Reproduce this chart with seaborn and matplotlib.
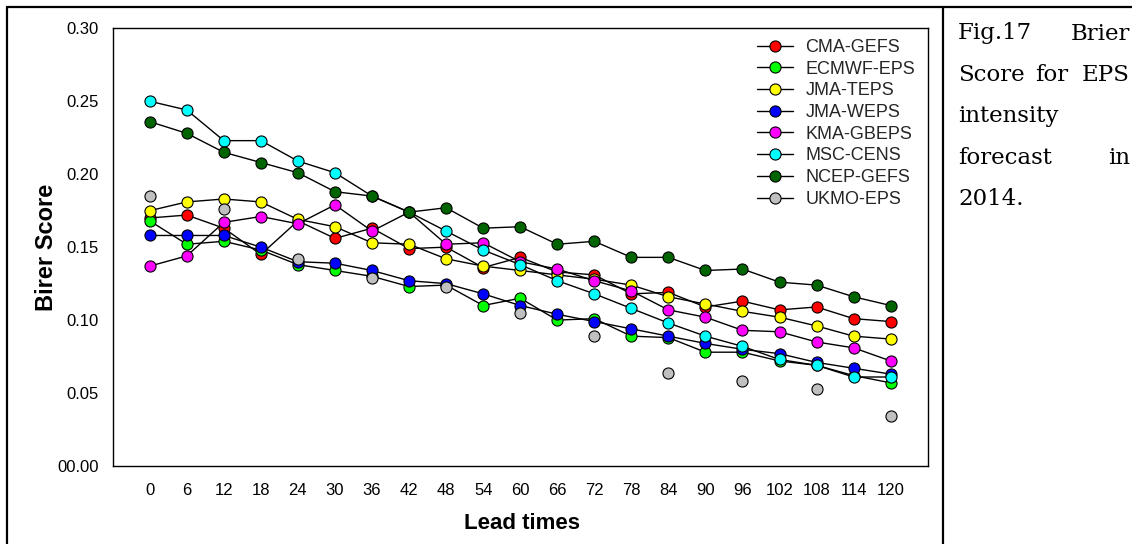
import numpy as np
import pandas as pd
import matplotlib
matplotlib.use("Agg")
import matplotlib.pyplot as plt
import seaborn as sns
from matplotlib.lines import Line2D

# ---------------- data ----------------
lead_times = [0, 6, 12, 18, 24, 30, 36, 42, 48, 54, 60, 66, 72, 78, 84, 90, 96, 102, 108, 114, 120]
cma_gefs   = [0.170, 0.172, 0.163, 0.145, 0.168, 0.156, 0.163, 0.149, 0.150, 0.136, 0.143,
              0.133, 0.131, 0.118, 0.119, 0.109, 0.113, 0.107, 0.109, 0.101, 0.099]
ecmwf_eps  = [0.168, 0.152, 0.154, 0.148, 0.138, 0.134, 0.130, 0.123, 0.124, 0.110, 0.115,
              0.100, 0.101, 0.089, 0.088, 0.078, 0.078, 0.072, 0.069, 0.062, 0.057]
jma_teps   = [0.175, 0.181, 0.183, 0.181, 0.169, 0.164, 0.153, 0.152, 0.142, 0.137, 0.134,
              0.131, 0.128, 0.124, 0.116, 0.111, 0.106, 0.102, 0.096, 0.089, 0.087]
jma_weps   = [0.158, 0.158, 0.158, 0.150, 0.140, 0.139, 0.134, 0.127, 0.125, 0.118, 0.110,
              0.104, 0.099, 0.094, 0.089, 0.084, 0.080, 0.077, 0.071, 0.067, 0.063]
kma_gbeps  = [0.137, 0.144, 0.167, 0.171, 0.166, 0.179, 0.161, 0.174, 0.152, 0.153, 0.140,
              0.135, 0.127, 0.120, 0.107, 0.102, 0.093, 0.092, 0.085, 0.081, 0.072]
msc_cens   = [0.250, 0.244, 0.223, 0.223, 0.209, 0.201, 0.185, 0.174, 0.161, 0.148, 0.138,
              0.127, 0.118, 0.108, 0.098, 0.089, 0.082, 0.073, 0.069, 0.061, 0.061]
ncep_gefs  = [0.236, 0.228, 0.215, 0.208, 0.201, 0.188, 0.185, 0.174, 0.177, 0.163, 0.164,
              0.152, 0.154, 0.143, 0.143, 0.134, 0.135, 0.126, 0.124, 0.116, 0.110]
ukmo_eps   = [0.185, np.nan, 0.176, np.nan, 0.142, np.nan, 0.129, np.nan, 0.123, np.nan, 0.105,
              np.nan, 0.089, np.nan, 0.064, np.nan, 0.058, np.nan, 0.053, np.nan, 0.034]

series_names = ["CMA-GEFS", "ECMWF-EPS", "JMA-TEPS", "JMA-WEPS",
                "KMA-GBEPS", "MSC-CENS", "NCEP-GEFS", "UKMO-EPS"]
series_values = [cma_gefs, ecmwf_eps, jma_teps, jma_weps,
                 kma_gbeps, msc_cens, ncep_gefs, ukmo_eps]
series_colors = ["#FF0000", "#00FF00", "#FFFF00", "#0000FF",
                 "#FF00FF", "#00FFFF", "#006400", "#C0C0C0"]
y_ticks = [0.00, 0.05, 0.10, 0.15, 0.20, 0.25, 0.30]
y_tick_labels = ["00.00", "0.05", "0.10", "0.15", "0.20", "0.25", "0.30"]

# ---------------- figure ----------------
sns.set_theme(style="white")
plt.rcParams["font.family"] = ["Liberation Sans", "DejaVu Sans"]

W, H = 1132, 544
fig = plt.figure(figsize=(W / 100, H / 100), dpi=100)
fig.patch.set_facecolor("white")

ax_l, ax_r, ax_t, ax_b = 112.7, 927.7, 28.3, 466.0
ax = fig.add_axes([ax_l / W, 1 - ax_b / H, (ax_r - ax_l) / W, (ax_b - ax_t) / H])

long_rows = []
for name, vals in zip(series_names, series_values):
    for t, v in zip(lead_times, vals):
        long_rows.append({"lead": t, "score": v, "model": name})
df = pd.DataFrame(long_rows)

ms = 8.0
for i, (name, color) in enumerate(zip(series_names, series_colors)):
    sub = df[df["model"] == name].dropna()
    ls = "none" if name == "UKMO-EPS" else "-"
    sns.lineplot(data=sub, x="lead", y="score", ax=ax, color="black", linewidth=1.0,
                 linestyle=ls, marker="o", markersize=ms, markerfacecolor=color,
                 markeredgecolor="black", markeredgewidth=0.8, legend=False,
                 zorder=2 + i)

ax.set_xlim(-6, 126)
ax.set_ylim(0, 0.30)
ax.set_xticks(lead_times)
ax.set_xticklabels([str(t) for t in lead_times])
ax.set_yticks(y_ticks)
ax.set_yticklabels(y_tick_labels)
ax.tick_params(axis="both", direction="out", length=4, width=1.0, color="black",
               labelsize=12, labelcolor="black")
ax.tick_params(axis="x", pad=8)
ax.tick_params(axis="y", pad=6)
for s in ax.spines.values():
    s.set_visible(True)
    s.set_color("black")
    s.set_linewidth(1.0)

ax.set_xlabel("Lead times", fontsize=16, fontweight="bold", color="black")
ax.set_ylabel("Birer Score", fontsize=17, fontweight="bold", color="black")
ax.xaxis.set_label_coords((521.7 - ax_l) / (ax_r - ax_l), (ax_b - 513) / (ax_b - ax_t))
ax.yaxis.set_label_coords((58 - ax_l) / (ax_r - ax_l), 0.5)

handles = [Line2D([0], [0], color="black", lw=1.0, marker="o", markersize=ms,
                  markerfacecolor=c, markeredgecolor="black", markeredgewidth=0.8)
           for c in series_colors]
leg = ax.legend(handles, series_names, loc="upper left",
                bbox_to_anchor=((756.7 - ax_l) / (ax_r - ax_l), 1 - (39 - ax_t) / (ax_b - ax_t)),
                frameon=False, fontsize=13, handlelength=2.0, handletextpad=0.7,
                labelspacing=0.26, borderpad=0, borderaxespad=0)

# ---------------- page frame and caption ----------------
frame_kw = dict(color="black", lw=1.6, transform=fig.transFigure)
fig.add_artist(Line2D([7 / W, 1], [1 - 7 / H, 1 - 7 / H], **frame_kw))
fig.add_artist(Line2D([7 / W, 7 / W], [0, 1 - 7 / H], **frame_kw))
fig.add_artist(Line2D([943 / W, 943 / W], [0, 1 - 7 / H], **frame_kw))

cap_kw = dict(fontsize=16.5, family="DejaVu Serif", color="black", va="baseline",
              transform=fig.transFigure)
xl, xr = 958 / W, 1130 / W
base = [39.5, 80.9, 122.3, 163.7, 205.1]
fig.text(xl, 1 - base[0] / H, "Fig.17", ha="left", **cap_kw)
fig.text(xr, 1 - base[0] / H, "Brier", ha="right", **cap_kw)
fig.text(xl, 1 - base[1] / H, "Score", ha="left", **cap_kw)
fig.text(1052 / W, 1 - base[1] / H, "for", ha="center", **cap_kw)
fig.text(xr, 1 - base[1] / H, "EPS", ha="right", **cap_kw)
fig.text(xl, 1 - base[2] / H, "intensity", ha="left", **cap_kw)
fig.text(xl, 1 - base[3] / H, "forecast", ha="left", **cap_kw)
fig.text(xr, 1 - base[3] / H, "in", ha="right", **cap_kw)
fig.text(xl, 1 - base[4] / H, "2014.", ha="left", **cap_kw)

fig.savefig("out.png", dpi=100, facecolor="white")
